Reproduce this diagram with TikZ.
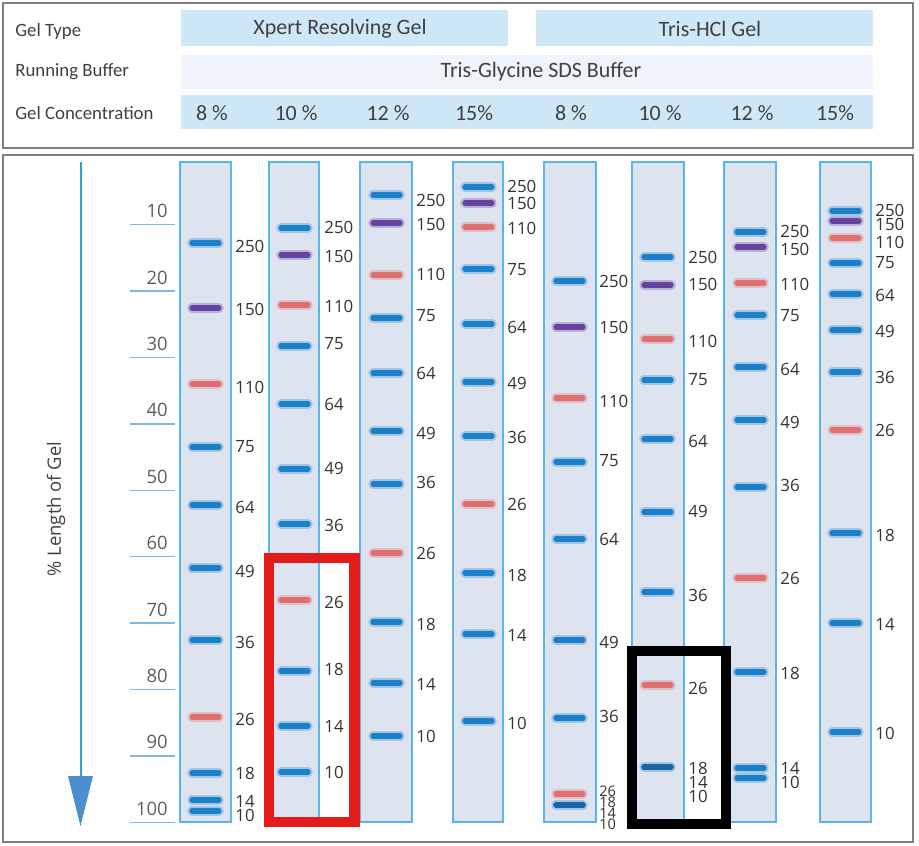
\documentclass[tikz,border=0pt]{standalone}
\usepackage{fontspec}
\setmainfont{Carlito}
\newfontfamily\numfont{Open Sans}
\usepackage{xcolor}

\definecolor{framegray}{HTML}{7F7F7F}
\definecolor{headblue}{HTML}{CFE8F7}
\definecolor{bufblue}{HTML}{EEF4FA}
\definecolor{txtgray}{HTML}{404040}
\definecolor{numgray}{HTML}{333333}
\definecolor{lanefill}{HTML}{DDE3EF}
\definecolor{laneblue}{HTML}{5BB5E6}
\definecolor{tickblue}{HTML}{7DB8E3}
\definecolor{axisblue}{HTML}{2AA0DC}
\definecolor{headfill}{HTML}{4D90D0}
\definecolor{bb}{HTML}{1A80CA}
\definecolor{bp}{HTML}{65439E}
\definecolor{br}{HTML}{E07070}
\definecolor{boxred}{HTML}{E31B1B}

\tikzset{
  frame/.style={draw=framegray,line width=0.8pt},
  headbox/.style={fill=headblue},
  rowlbl/.style={anchor=west,inner sep=0pt,text=txtgray,font=\fontsize{10.7}{12}\selectfont},
  headtxt/.style={inner sep=0pt,text=txtgray,font=\fontsize{12.5}{14}\selectfont},
  lane/.style={fill=lanefill,draw=laneblue,line width=0.6pt},
  glow/.style={draw=#1,opacity=0.3,line width=5.4pt,line cap=round},
  band/.style={draw=#1,line width=2.9pt,line cap=round},
  lbl/.style={anchor=west,inner sep=0pt,text=numgray,font=\numfont\fontsize{9.6}{10}\selectfont},
  tightlbl/.style={lbl,font=\numfont\fontsize{8.3}{9}\selectfont},
  tick/.style={draw=tickblue,line width=0.7pt},
  ticklbl/.style={anchor=east,inner sep=0pt,text=txtgray!85,font=\numfont\fontsize{10.5}{11}\selectfont},
}

\begin{document}
\begin{tikzpicture}[x=0.02cm,y=-0.02cm]
  \useasboundingbox (0,0) rectangle (919,845);

  % table on top
  \draw[frame] (3,3) rectangle (913,148);
  \fill[headblue] (181,10) rectangle (508,46);
  \fill[headblue] (536,10) rectangle (873,46);
  \fill[bufblue] (181,55) rectangle (873,89);
  \fill[headblue] (181,95) rectangle (873,129);
  \node[rowlbl] (type) at (15,31) {Gel Type};
  \node[rowlbl] (buffer) at (15,72) {Running Buffer};
  \node[rowlbl] (conc) at (15,113) {Gel Concentration};
  \node[headtxt] (xpert) at (340,29) {Xpert Resolving Gel};
  \node[headtxt] (tris) at (710,29) {Tris-HCl Gel};
  \node[headtxt] (tgsds) at (541,72) {Tris-Glycine SDS Buffer};
  \foreach \x/\t [count=\i] in {212/8 \%,296/10 \%,388/12 \%,474/15\%,571/8 \%,660/10 \%,752/12 \%,835/15\%}
    \node[headtxt] (c\i) at (\x,113) {\t};

  % gel panel
  \draw[frame] (3,155) rectangle (913,842);

  % axis
  \coordinate (atop) at (81,162);
  \coordinate (abase) at (81,778);
  \coordinate (atip) at (80.5,826);
  \draw[axisblue,line width=1.7pt] (atop) -- (abase);
  \fill[headfill] (68,776) -- (93,776) -- (atip) -- cycle;
  \node[rotate=90,inner sep=0pt,text=txtgray,font=\numfont\fontsize{10.5}{11}\selectfont] (axlbl) at (56,509) {\% Length of Gel};
  \foreach \p in {10,20,...,100} {
    \draw[tick] (130,{158.3+6.64*\p}) -- (175,{158.3+6.64*\p});
    \node[ticklbl] (t\p) at (168,{144.6+6.64*\p}) {\p};
  }

  % lane 1
  \draw[lane] (180,162) rectangle (231,822);
  \foreach \y/\c/\t/\ly in {243/bb/250/246,308/bp/150/309,384/br/110/387,447/bb/75/447,505/bb/64/507,568/bb/49/571,640/bb/36/642,717/br/26/719,773/bb/18/773,800/bb/14/801,811/bb/10/815} {
    \draw[glow=\c] (192,\y) -- (219,\y);
    \draw[band=\c] (192,\y) -- (219,\y);
    \node[lbl] (a\t) at (235,\ly) {\t};
  }

  % lane 2
  \draw[lane] (269,162) rectangle (319,822);
  \foreach \y/\c/\t/\ly in {228/bb/250/227,255/bp/150/256,305/br/110/306,346/bb/75/344,404/bb/64/404,469/bb/49/468,524/bb/36/525,600/br/26/602,671/bb/18/669,726/bb/14/726,772/bb/10/772} {
    \draw[glow=\c] (281,\y) -- (308,\y);
    \draw[band=\c] (281,\y) -- (308,\y);
    \node[lbl] (b\t) at (324,\ly) {\t};
  }

  % lane 3
  \draw[lane] (360,162) rectangle (412,822);
  \foreach \y/\c/\t/\ly in {195/bb/250/200,223/bp/150/224,275/br/110/274,318/bb/75/316,373/bb/64/373,431/bb/49/433,484/bb/36/482,553/br/26/553,622/bb/18/624,683/bb/14/684,736/bb/10/736} {
    \draw[glow=\c] (373,\y) -- (400,\y);
    \draw[band=\c] (373,\y) -- (400,\y);
    \node[lbl] (c\t) at (416,\ly) {\t};
  }

  % lane 4
  \draw[lane] (453,162) rectangle (503,822);
  \foreach \y/\c/\t/\ly in {187/bb/250/186,203/bp/150/203,227/br/110/228,269/bb/75/270,324/bb/64/327,382/bb/49/383,436/bb/36/437,504/br/26/504,573/bb/18/575,634/bb/14/635,721/bb/10/723} {
    \draw[glow=\c] (465,\y) -- (492,\y);
    \draw[band=\c] (465,\y) -- (492,\y);
    \node[lbl] (d\t) at (507,\ly) {\t};
  }

  % lane 5
  \draw[lane] (544,162) rectangle (596,822);
  \foreach \y/\c/\t/\ly in {281/bb/250/281,327/bp/150/327,398/br/110/401,462/bb/75/461,539/bb/64/539,640/bb/49/642,718/bb/36/716} {
    \draw[glow=\c] (556,\y) -- (583,\y);
    \draw[band=\c] (556,\y) -- (583,\y);
    \node[lbl] (e\t) at (599,\ly) {\t};
  }
  \draw[glow=br] (556,794) -- (583,794);
  \draw[band=br] (556,794) -- (583,794);
  \draw[glow=bb] (556,805) -- (583,805);
  \draw[band=bb!80!black,line width=3.2pt] (556,805) -- (583,805);
  \foreach \t/\ly in {26/791.5,18/802.5,14/813.5,10/824.5}
    \node[tightlbl] (e\t) at (599,\ly) {\t};

  % lane 6
  \draw[lane] (632,162) rectangle (684,822);
  \foreach \y/\c/\t/\ly in {257/bb/250/257,285/bp/150/284,339/br/110/341,380/bb/75/380,439/bb/64/441,512/bb/49/511,592/bb/36/595,685/br/26/688} {
    \draw[glow=\c] (644,\y) -- (671,\y);
    \draw[band=\c] (644,\y) -- (671,\y);
    \node[lbl] (f\t) at (688,\ly) {\t};
  }
  \draw[glow=bb] (644,767) -- (671,767);
  \draw[band=bb!80!black,line width=3.2pt] (644,767) -- (671,767);
  \foreach \t/\ly in {18/768,14/782,10/796}
    \node[lbl] (f\t) at (688,\ly) {\t};

  % lane 7
  \draw[lane] (724,162) rectangle (776,822);
  \foreach \y/\c/\t/\ly in {232/bb/250/231,247/bp/150/249,283/br/110/284,315/bb/75/316,367/bb/64/369,420/bb/49/422,487/bb/36/485,578/br/26/578,672/bb/18/673,768/bb/14/768,778/bb/10/782} {
    \draw[glow=\c] (737,\y) -- (764,\y);
    \draw[band=\c] (737,\y) -- (764,\y);
    \node[lbl] (g\t) at (780,\ly) {\t};
  }

  % lane 8
  \draw[lane] (820,162) rectangle (871,822);
  \foreach \y/\c/\t/\ly in {211/bb/250/210,221/bp/150/224,238/br/110/242,263/bb/75/263,294/bb/64/295,330/bb/49/331,372/bb/36/377,430/br/26/430,533/bb/18/535,623/bb/14/624,732/bb/10/733} {
    \draw[glow=\c] (832,\y) -- (859,\y);
    \draw[band=\c] (832,\y) -- (859,\y);
    \node[lbl] (h\t) at (875,\ly) {\t};
  }

  % highlight boxes
  \draw[boxred,line width=5.7pt] (269,558) rectangle (354.5,822);
  \draw[black,line width=5.7pt] (632,650.5) rectangle (726,824);
\end{tikzpicture}
\end{document}
